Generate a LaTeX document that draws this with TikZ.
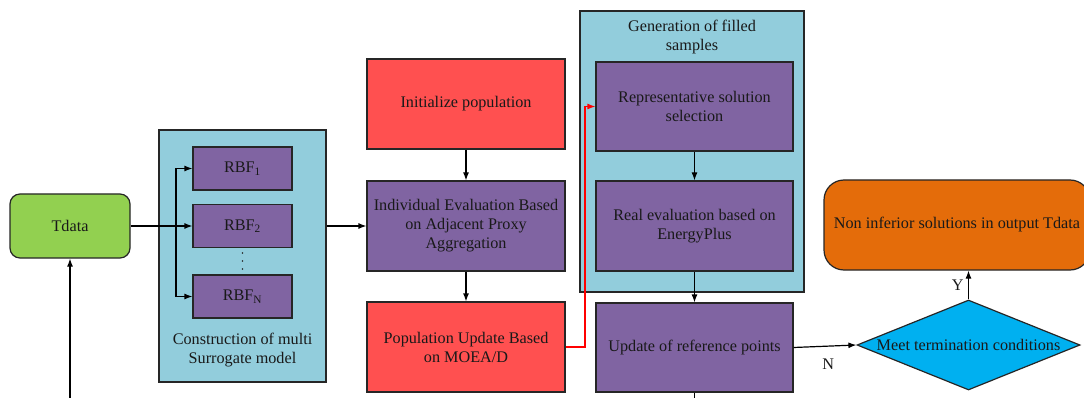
\documentclass[tikz,border=0pt]{standalone}
\usepackage{fontspec}
\setmainfont{Liberation Serif}
\newfontfamily\labelfont{Liberation Serif}
\usetikzlibrary{arrows.meta,shapes.geometric}
\definecolor{leaf}{HTML}{92D050}
\definecolor{panel}{HTML}{92CDDC}
\definecolor{plum}{HTML}{8064A2}
\definecolor{coral}{HTML}{FF5050}
\definecolor{amber}{HTML}{E46C0A}
\definecolor{sky}{HTML}{00B0F0}
\tikzset{
  every node/.style={font=\labelfont\fontsize{16.2}{19}\selectfont, text=black!90},
  boxline/.style={draw=black!85, line width=1.2pt},
  panelbox/.style={boxline, fill=panel, rectangle, inner sep=0pt},
  procbox/.style={boxline, fill=plum, rectangle, align=center, inner sep=0pt},
  redbox/.style={boxline, fill=coral, rectangle, align=center, inner sep=0pt},
  arr/.style={line width=1.2pt, draw=black, -{Latex[length=8pt,width=6pt]}},
  plain/.style={line width=1.2pt, draw=black},
  redarr/.style={line width=1.2pt, draw=red, -{Latex[length=8pt,width=6pt]}},
}
\begin{document}
\begin{tikzpicture}[x=1pt,y=-1pt]
\useasboundingbox (0,0) rectangle (1084,398);
\clip (0,0) rectangle (1084,398);

% input data
\node[boxline, fill=leaf, rounded corners=10pt, minimum width=120pt, minimum height=64pt] (tdata) at (70,226) {Tdata};

% surrogate model panel
\node[panelbox, minimum width=167pt, minimum height=252pt] (surr) at (242.5,256) {};
\node[procbox, minimum width=99pt, minimum height=43pt] (rbf1) at (242.5,168.5) {RBF\textsubscript{1}};
\node[procbox, minimum width=99pt, minimum height=43pt] (rbf2) at (242.5,226) {RBF\textsubscript{2}};
\node[procbox, minimum width=99pt, minimum height=43pt] (rbfn) at (242.5,296.5) {RBF\textsubscript{N}};
\foreach \dy in {253,261,269} \fill[black!85] (242.5,\dy) circle (0.9pt);
\node[align=center] (surrcap) at (242.5,350) {Construction of multi\\Surrogate model};

% MOEA/D column
\node[redbox, minimum width=198pt, minimum height=90pt] (init) at (466,104) {Initialize population};
\node[procbox, minimum width=198pt, minimum height=90pt] (indiv) at (466,226) {Individual Evaluation Based\\on Adjacent Proxy\\Aggregation};
\node[redbox, minimum width=198pt, minimum height=90pt] (popup) at (466,347) {Population Update Based\\on MOEA/D};

% infill sample panel
\node[panelbox, minimum width=224pt, minimum height=281pt] (gen) at (692,151.5) {};
\node[align=center] (gencap) at (692,37) {Generation of filled\\samples};
\node[procbox, minimum width=197pt, minimum height=89pt] (repr) at (694.5,106.5) {Representative solution\\selection};
\node[procbox, minimum width=197pt, minimum height=90pt] (real) at (694.5,226) {Real evaluation based on\\EnergyPlus};
\node[procbox, minimum width=197pt, minimum height=89pt] (upd) at (694.5,347.5) {Update of reference points};

% termination
\node[diamond, boxline, fill=sky, minimum width=223pt, minimum height=90pt, inner sep=0pt] (term) at (968.5,345) {};
\node (termtxt) at (term.center) {Meet termination conditions};
\node[boxline, fill=amber, rounded corners=20pt, minimum width=266pt, minimum height=90pt] (result) at (957,225) {Non inferior solutions in output Tdata};

% connectors
\coordinate (bus) at (176,226);
\coordinate (feed) at (70,400);
\coordinate (redx) at (585,0);
\coordinate (down) at (694.5,400);

\draw[arr] (feed) -- (tdata.south);
\draw[arr] (tdata.east) -- (rbf2.west);
\draw[plain] (rbf1.west -| bus) -- (rbfn.west -| bus);
\draw[arr] (rbf1.west -| bus) -- (rbf1.west);
\draw[arr] (rbfn.west -| bus) -- (rbfn.west);
\draw[arr] (surr.east |- indiv.west) -- (indiv.west);
\draw[arr] (init.south) -- (indiv.north);
\draw[arr] (indiv.south) -- (popup.north);
\draw[redarr] (popup.east) -- (popup.east -| redx) |- (repr.west);
\draw[arr] (repr.south) -- (real.north);
\draw[arr] (real.south) -- (upd.north);
\draw[plain] (upd.south) -- (down);
\draw[arr] (upd.east) -- (term.west) node[pos=0.55, below=9pt] (nlab) {N};
\draw[arr] (term.north) -- (term.north |- result.south) node[midway, left=1pt] (ylab) {Y};
\end{tikzpicture}
\end{document}
